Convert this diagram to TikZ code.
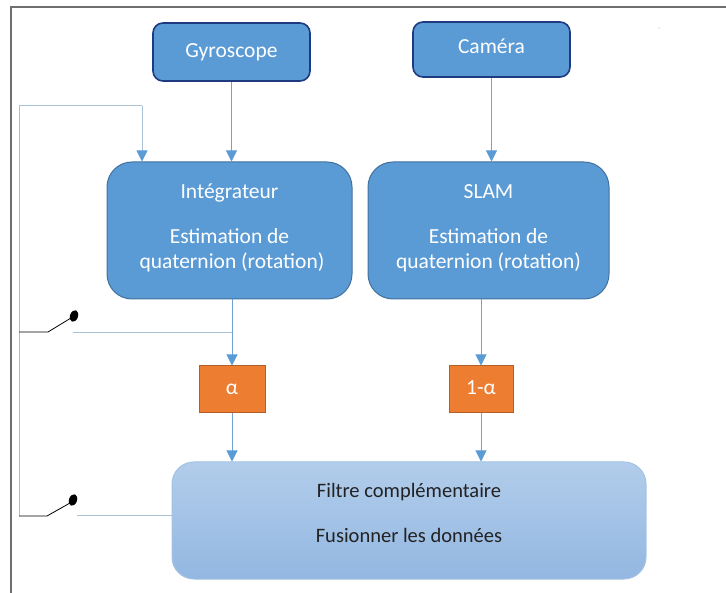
\documentclass[tikz,border=0pt]{standalone}
\usepackage{fontspec}
\setmainfont{Carlito}
\usetikzlibrary{arrows.meta}
\definecolor{boxblue}{HTML}{5B9BD5}
\definecolor{linkblue}{HTML}{6FA3D6}
\definecolor{navy}{HTML}{1F3A80}
\definecolor{steel}{HTML}{41719C}
\definecolor{orng}{HTML}{ED7D31}
\definecolor{orngd}{HTML}{B35F27}
\definecolor{lightA}{HTML}{B2CDEB}
\definecolor{lightB}{HTML}{93B7E1}
\definecolor{lightE}{HTML}{A3C2E3}
\definecolor{fbcol}{HTML}{A9C1D4}
\definecolor{framecol}{HTML}{6F6F6F}
\definecolor{darktext}{HTML}{222222}
\begin{document}
\begin{tikzpicture}[x=1pt,y=-1pt,
  sensor/.style={draw=navy,line width=1.6pt,fill=boxblue,rounded corners=10pt,inner sep=0pt},
  proc/.style={draw=steel,line width=1pt,fill=boxblue,rounded corners=25pt,inner sep=0pt},
  coef/.style={draw=orngd,line width=1pt,fill=orng,inner sep=0pt},
  fusion/.style={draw=lightE,line width=1pt,top color=lightA,bottom color=lightB,rounded corners=22pt,inner sep=0pt},
  wtxt/.style={text=white,font=\fontsize{21.5}{26}\selectfont,anchor=base,inner sep=0pt},
  dtxt/.style={text=darktext,font=\fontsize{20.5}{25}\selectfont,anchor=base,inner sep=0pt},
  flow/.style={draw=linkblue,line width=0.8pt,-{Triangle[width=11pt,length=11pt,color=boxblue]}},
  fbline/.style={draw=fbcol,line width=1pt},
  swline/.style={draw=black,line width=0.8pt},
  swdot/.style={fill=black},
]
\useasboundingbox (0,0) rectangle (726,593);
% frame
\draw[draw=framecol,line width=1.5pt] (11,593) -- (11,7) -- (726,7);
\fill[gray!60] (659,28) circle (0.7);

% boxes
\node[sensor,minimum width=157pt,minimum height=58pt] (gyro) at (231.5,52) {};
\node[sensor,minimum width=157pt,minimum height=55pt] (cam) at (491.5,49.5) {};
\node[proc,minimum width=245pt,minimum height=137pt] (integ) at (229.5,230.5) {};
\node[proc,minimum width=241pt,minimum height=137pt] (slam) at (488.5,230.5) {};
\node[coef,minimum width=66pt,minimum height=47pt] (alpha) at (232,389.5) {};
\node[coef,minimum width=64pt,minimum height=47pt] (malpha) at (481,389.5) {};
\node[fusion,minimum width=474pt,minimum height=117pt] (filt) at (409,520.5) {};

% texts
\node[wtxt] (gyroT) at (231.5,57.5) {Gyroscope};
\node[wtxt] (camT) at (491.5,54) {Caméra};
\node[wtxt] (integT1) at (229.5,199) {Intégrateur};
\node[wtxt] (integT2) at (229.5,244) {Estimation de};
\node[wtxt] (integT3) at (232,269) {quaternion (rotation)};
\node[wtxt] (slamT1) at (488.5,199) {SLAM};
\node[wtxt] (slamT2) at (488.5,244) {Estimation de};
\node[wtxt] (slamT3) at (488.5,269) {quaternion (rotation)};
\node[wtxt] (alphaT) at (232,395) {α};
\node[wtxt] (malphaT) at (481,395) {1-α};
\node[dtxt] (filtT1) at (409,497) {Filtre complémentaire};
\node[dtxt] (filtT2) at (409,542) {Fusionner les données};

% main flow
\draw[flow] (gyro.south) -- (gyro.south |- integ.north);
\draw[flow] (cam.south) -- (cam.south |- slam.north);
\draw[flow] (alpha.north |- integ.south) -- (alpha.north);
\draw[flow] (malpha.north |- slam.south) -- (malpha.north);
\draw[flow] (alpha.south) -- (alpha.south |- filt.north);
\draw[flow] (malpha.south) -- (malpha.south |- filt.north);

% feedback
\coordinate (fbTop) at (19,106);
\coordinate (fbBot) at (19,516);
\coordinate (fbC) at (142,106);
\draw[fbline] (fbBot) -- (fbTop) -- (fbC);
\draw[flow,draw=fbcol] (fbC) -- (fbC |- integ.north);

% switch 1
\coordinate (sw1a) at (19,332);
\coordinate (sw1b) at (48,332);
\coordinate (sw1c) at (71,318);
\coordinate (sw1e) at (73,333);
\draw[swline] (sw1a) -- (sw1b) -- (sw1c);
\fill[swdot,rotate around={-20:(74,316)}] (74,316) ellipse (4 and 6);
\draw[fbline] (sw1e) -- (sw1e -| alpha.north);

% switch 2
\coordinate (sw2a) at (19,516);
\coordinate (sw2b) at (47,516);
\coordinate (sw2c) at (70,503);
\coordinate (sw2e) at (77,516);
\draw[swline] (sw2a) -- (sw2b) -- (sw2c);
\fill[swdot,rotate around={-20:(73,500)}] (73,500) ellipse (4 and 6);
\draw[fbline] (sw2e) -- (sw2e -| filt.west);
\end{tikzpicture}
\end{document}
